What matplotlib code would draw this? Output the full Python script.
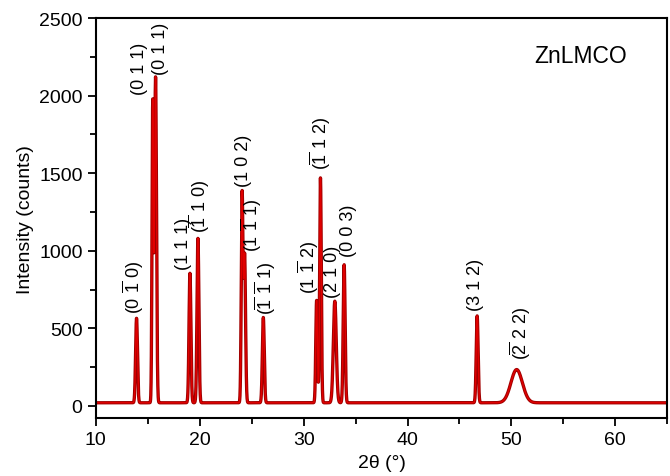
import numpy as np
import matplotlib
matplotlib.use('Agg')
import matplotlib.pyplot as plt
from matplotlib.ticker import MultipleLocator

plt.rcParams['font.family'] = ['Liberation Sans', 'DejaVu Sans']
plt.rcParams['mathtext.fontset'] = 'custom'
plt.rcParams['mathtext.rm'] = 'Liberation Sans'
plt.rcParams['mathtext.it'] = 'Liberation Sans'

# peak list: centre (2theta), height (counts), width (sigma)
peak_pos = [13.92, 15.48, 15.75, 19.06, 19.83, 24.08, 24.32, 26.12, 31.25, 31.62, 33.00, 33.90, 46.70, 50.50]
peak_height = [545, 1935, 2100, 835, 1060, 1340, 950, 550, 660, 1450, 655, 890, 560, 214]
peak_sigma = [0.09, 0.07, 0.09, 0.09, 0.09, 0.08, 0.09, 0.09, 0.08, 0.08, 0.14, 0.09, 0.09, 0.55]
baseline = 20

# hkl labels: text, x, bottom y
hkl_text = [r'(0 $\overline{1}$ 0)', '(0 1 1)', '(0 1 1)', '(1 1 1)', r'($\overline{1}$ 1 0)',
            '(1 0 2)', r'(1 $\overline{1}$ 1)', r'($\overline{1}$ $\overline{1}$ 1)', r'(1 $\overline{1}$ 2)',
            r'($\overline{1}$ 1 2)', '(2 1 0)', '(0 0 3)', '(3 1 2)', r'($\overline{2}$ 2 2)']
hkl_x = [13.6, 14.2, 16.2, 18.4, 20.0, 24.2, 25.0, 26.3, 30.4, 31.6, 32.8, 34.3, 46.5, 50.8]
hkl_y = [600, 2010, 2140, 880, 1120, 1415, 1000, 590, 730, 1525, 700, 965, 620, 300]

two_theta = np.linspace(10, 65, 6000)
intensity = np.full_like(two_theta, baseline, dtype=float)
for c, h, s in zip(peak_pos, peak_height, peak_sigma):
    intensity += h * np.exp(-0.5 * ((two_theta - c) / s) ** 2)

fig = plt.figure(figsize=(6.7, 4.77), dpi=100)
ax = fig.add_axes([0.143, 0.121, 0.853, 0.839])

ax.plot(two_theta, intensity, color='#a00000', lw=2.4, solid_joinstyle='round')
ax.plot(two_theta, intensity, color='#e00000', lw=1.0)

for t, x, y in zip(hkl_text, hkl_x, hkl_y):
    ax.text(x, y, t, rotation=90, ha='center', va='bottom', fontsize=13)

ax.text(56.7, 2260, 'ZnLMCO', fontsize=16.5, ha='center', va='center')

ax.set_xlim(10, 65)
ax.set_ylim(-80, 2500)
ax.xaxis.set_major_locator(MultipleLocator(10))
ax.xaxis.set_minor_locator(MultipleLocator(5))
ax.yaxis.set_major_locator(MultipleLocator(500))
ax.yaxis.set_minor_locator(MultipleLocator(250))
ax.tick_params(which='both', direction='out', labelsize=14, width=1.3)
ax.tick_params(which='major', length=6)
ax.tick_params(which='minor', length=4)
for sp in ax.spines.values():
    sp.set_linewidth(1.5)

ax.set_xlabel('2θ (°)', fontsize=14)
ax.set_ylabel('Intensity (counts)', fontsize=14)

fig.savefig('out.png', dpi=100)
